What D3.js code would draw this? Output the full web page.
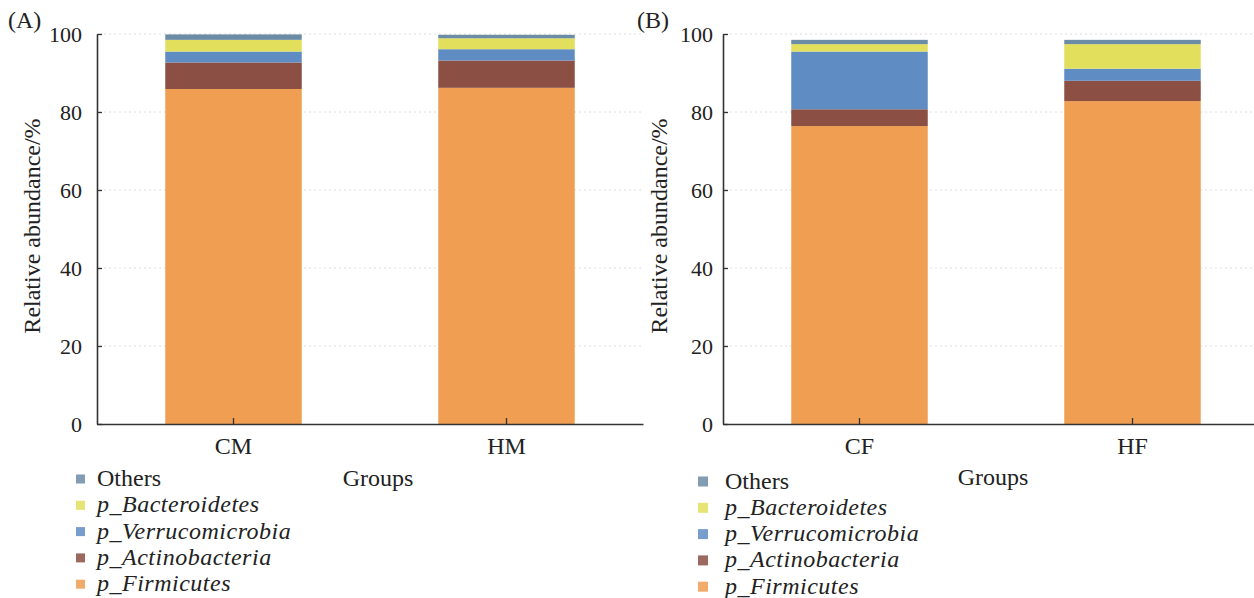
<!DOCTYPE html>
<html>
<head>
<meta charset="utf-8">
<script src="https://cdn.jsdelivr.net/npm/d3@7/dist/d3.min.js"></script>
<style>
  html, body { margin: 0; padding: 0; background: #fff; }
  svg { display: block; }
  svg text { font-family: "Liberation Serif", Tinos, "DejaVu Serif", "Times New Roman", Times, serif !important; fill: #222; }
</style>
</head>
<body>
<svg id="chart" width="1254" height="598"></svg>
<script>
// Phylum-level relative abundance (%) per group
const taxa = ["p_Firmicutes", "p_Actinobacteria", "p_Verrucomicrobia", "p_Bacteroidetes", "Others"];
const taxaColors = ["#EF9E52", "#8B4F44", "#5F8CC3", "#E2DF5C", "#6C8CA6"];
const legendOrder = ["Others", "p_Bacteroidetes", "p_Verrucomicrobia", "p_Actinobacteria", "p_Firmicutes"];

const groupsA = ["CM", "HM"];
const firmicutesA = [85.9, 86.2];
const actinobacteriaA = [6.8, 7.0];
const verrucomicrobiaA = [2.8, 2.9];
const bacteroidetesA = [3.0, 2.8];
const othersA = [1.4, 0.9];

const groupsB = ["CF", "HF"];
const firmicutesB = [76.4, 82.8];
const actinobacteriaB = [4.3, 5.2];
const verrucomicrobiaB = [14.8, 3.1];
const bacteroidetesB = [1.9, 6.3];
const othersB = [1.1, 1.1];

const yTicks = [0, 20, 40, 60, 80, 100];

function buildRows(groups, f, a, v, b, o) {
  return groups.map((g, i) => ({
    group: g,
    "p_Firmicutes": f[i],
    "p_Actinobacteria": a[i],
    "p_Verrucomicrobia": v[i],
    "p_Bacteroidetes": b[i],
    "Others": o[i]
  }));
}

const panels = [
  { tag: "(A)", rows: buildRows(groupsA, firmicutesA, actinobacteriaA, verrucomicrobiaA, bacteroidetesA, othersA),
    x0: 97, tagX: 8, labelX: 40, tickGap: 15,
    legendX: 76, legendY: 479, swatch: 9, textDx: 21, groupsX: 378, groupsY: 486 },
  { tag: "(B)", rows: buildRows(groupsB, firmicutesB, actinobacteriaB, verrucomicrobiaB, bacteroidetesB, othersB),
    x0: 723, tagX: 637, labelX: 667, tickGap: 10,
    legendX: 698, legendY: 481.5, swatch: 10, textDx: 27, groupsX: 993, groupsY: 485 }
];

const svg = d3.select("#chart");
const plotTop = 34, plotBottom = 424, plotW = 546;
const color = d3.scaleOrdinal().domain(taxa).range(taxaColors);
const stack = d3.stack().keys(taxa);

panels.forEach(p => {
  const g = svg.append("g");
  const x = d3.scaleBand().domain(p.rows.map(d => d.group))
    .range([p.x0, p.x0 + plotW]).paddingInner(0.5).paddingOuter(0.25);
  const y = d3.scaleLinear().domain([0, 100]).range([plotBottom, plotTop]);

  // dotted horizontal grid
  g.append("g").selectAll("line").data(yTicks.filter(t => t > 0)).join("line")
    .attr("x1", p.x0 + 2).attr("x2", p.x0 + plotW)
    .attr("y1", d => y(d)).attr("y2", d => y(d))
    .attr("stroke", "#dcdcdc").attr("stroke-width", 1)
    .attr("stroke-dasharray", "2,3");

  // stacked bars
  const series = stack(p.rows);
  g.append("g").selectAll("g").data(series).join("g")
    .attr("fill", d => color(d.key))
    .selectAll("rect").data(d => d).join("rect")
    .attr("x", d => x(d.data.group))
    .attr("width", x.bandwidth())
    .attr("y", d => y(d[1]))
    .attr("height", d => y(d[0]) - y(d[1]));

  // y axis
  const yAxis = g.append("g").attr("transform", `translate(${p.x0},0)`)
    .call(d3.axisLeft(y).tickValues(yTicks).tickSize(-5).tickPadding(p.tickGap).tickSizeOuter(0));
  yAxis.attr("font-family", null);
  yAxis.select(".domain").attr("stroke", "#333").attr("stroke-width", 1.6);
  yAxis.selectAll(".tick line").attr("stroke", "#333").attr("stroke-width", 1.3);
  yAxis.selectAll(".tick text").attr("font-size", 22).attr("fill", "#222");

  // x axis
  const xAxis = g.append("g").attr("transform", `translate(0,${plotBottom})`)
    .call(d3.axisBottom(x).tickSize(-6).tickPadding(13).tickSizeOuter(0));
  xAxis.attr("font-family", null);
  xAxis.select(".domain").attr("stroke", "#333").attr("stroke-width", 1.6);
  xAxis.selectAll(".tick line").attr("stroke", "#333").attr("stroke-width", 1.3);
  xAxis.selectAll(".tick text").attr("font-size", 24).attr("fill", "#222");

  // axis titles
  g.append("text")
    .attr("transform", `translate(${p.labelX},226) rotate(-90)`)
    .attr("text-anchor", "middle").attr("font-size", 24)
    .text("Relative abundance/%");
  g.append("text").attr("x", p.groupsX).attr("y", p.groupsY)
    .attr("text-anchor", "middle").attr("font-size", 24).text("Groups");

  // panel tag
  g.append("text").attr("x", p.tagX).attr("y", 28).attr("font-size", 24).text(p.tag);

  // legend
  const lg = g.append("g").selectAll("g").data(legendOrder).join("g")
    .attr("transform", (d, i) => `translate(${p.legendX},${p.legendY + i * 26.3})`);
  lg.append("rect").attr("x", 0).attr("y", -p.swatch / 2).attr("width", p.swatch).attr("height", p.swatch)
    .attr("fill", d => color(d)).attr("opacity", 0.85);
  lg.append("text").attr("x", p.textDx).attr("y", 7)
    .attr("font-size", 24)
    .attr("font-style", d => d === "Others" ? "normal" : "italic")
    .attr("letter-spacing", d => d === "Others" ? 0 : 0.5)
    .text(d => d);
});
</script>
</body>
</html>
